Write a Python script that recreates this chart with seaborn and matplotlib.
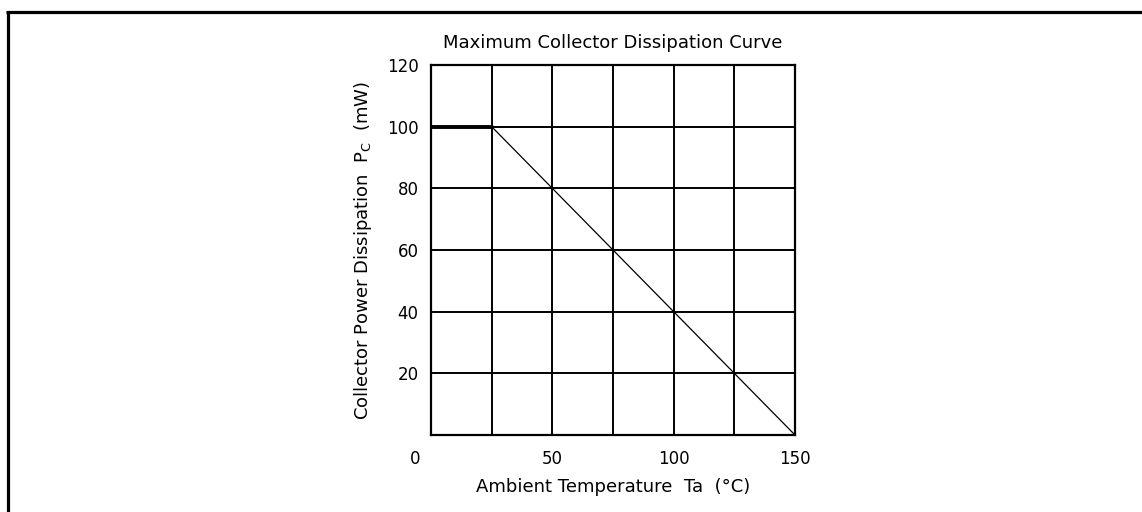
import matplotlib
matplotlib.use("Agg")
import matplotlib.pyplot as plt
import matplotlib.transforms as mtransforms
from matplotlib.lines import Line2D
import seaborn as sns
import pandas as pd

# datos de la curva de disipación
temp_flat = [0, 25]
power_flat = [100, 100]
temp_derate = [25, 150]
power_derate = [100, 0]

x_ticks = [0, 50, 100, 150]
x_grid = [25, 75, 125]
y_ticks = [20, 40, 60, 80, 100, 120]

sns.set_style("white")
plt.rcParams['font.family'] = ['DejaVu Sans']
plt.rcParams['mathtext.default'] = 'regular'
plt.rcParams['text.color'] = 'black'
plt.rcParams['axes.labelcolor'] = 'black'

fig = plt.figure(figsize=(11.42, 5.12), dpi=100)
ax = fig.add_axes([431 / 1142, 1 - 435 / 512, 364 / 1142, 370 / 512])

df_flat = pd.DataFrame({'Ta': temp_flat, 'Pc': power_flat})
df_derate = pd.DataFrame({'Ta': temp_derate, 'Pc': power_derate})

sns.lineplot(data=df_flat, x='Ta', y='Pc', ax=ax, color='black', linewidth=2.8)
sns.lineplot(data=df_derate, x='Ta', y='Pc', ax=ax, color='black', linewidth=0.9)

ax.set_xlim(0, 150)
ax.set_ylim(0, 120)
ax.set_xticks(x_ticks)
ax.set_xticks(x_grid, minor=True)
ax.set_yticks(y_ticks)
ax.grid(True, which='both', color='black', linewidth=1.4)
ax.tick_params(axis='both', which='both', length=0, labelsize=12, colors='black')
ax.tick_params(axis='x', pad=11)
ax.tick_params(axis='y', pad=9)

# la etiqueta 0 va en la esquina, desplazada a la izquierda
lbl0 = ax.get_xticklabels()[0]
lbl0.set_transform(lbl0.get_transform() +
                   mtransforms.ScaledTranslation(-0.16, 0, fig.dpi_scale_trans))

for s in ax.spines.values():
    s.set_color('black')
    s.set_linewidth(1.6)

ax.set_title('Maximum Collector Dissipation Curve', fontsize=13, pad=12)
ax.set_xlabel('Ambient Temperature  Ta  (°C)', fontsize=13, labelpad=7)
ax.set_ylabel('Collector Power Dissipation  P$_C$  (mW)', fontsize=13, labelpad=9)

# marco exterior (solo arriba e izquierda)
fig.add_artist(Line2D([6 / 1142, 1], [1 - 11.5 / 512, 1 - 11.5 / 512],
                      transform=fig.transFigure, color='black', linewidth=2.3,
                      solid_capstyle='butt'))
fig.add_artist(Line2D([7.5 / 1142, 7.5 / 1142], [0, 1 - 11 / 512],
                      transform=fig.transFigure, color='black', linewidth=2.3,
                      solid_capstyle='butt'))

fig.savefig('out.png', dpi=100)
